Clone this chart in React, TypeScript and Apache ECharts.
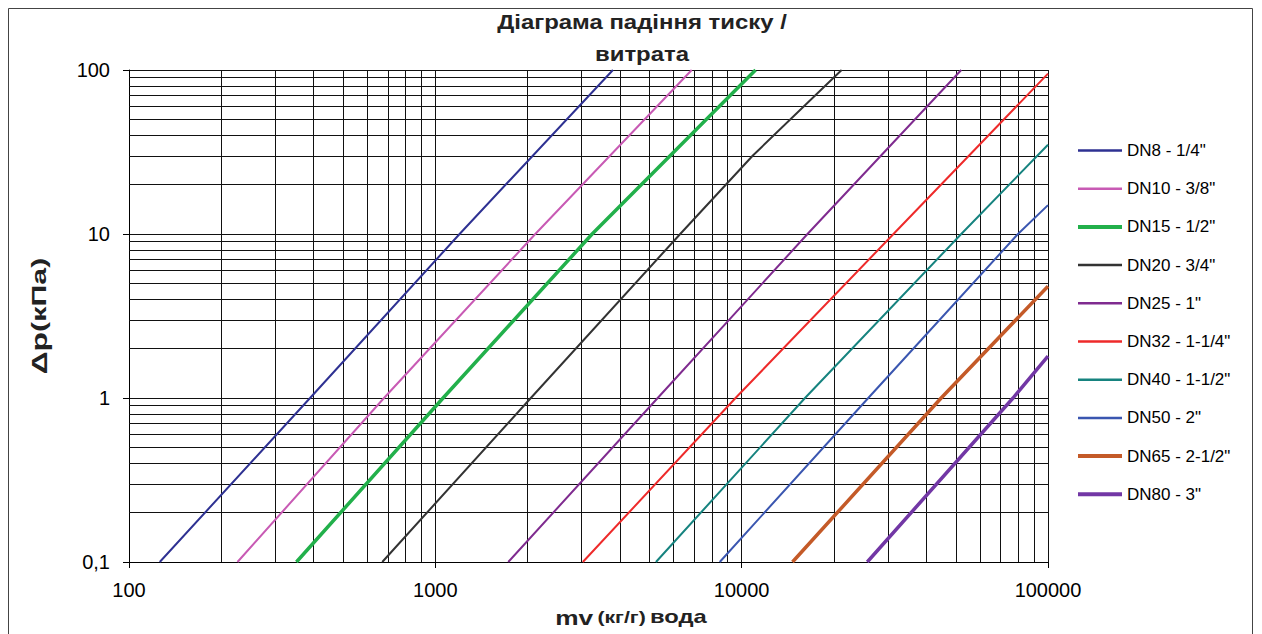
import React, { useEffect, useRef } from "react";
import * as echarts from "echarts";

// ---- data ----
const seriesNames = [
  'DN8 - 1/4"',
  'DN10 - 3/8"',
  'DN15 - 1/2"',
  'DN20 - 3/4"',
  'DN25 - 1"',
  'DN32 - 1-1/4"',
  'DN40 - 1-1/2"',
  'DN50 - 2"',
  'DN65 - 2-1/2"',
  'DN80 - 3"',
];

// [mass flow kg/h, pressure drop kPa]
const dn8 = [[126, 0.1], [390, 1], [1200, 10], [3800, 100]];
const dn10 = [[226, 0.1], [680, 1], [2120, 10], [6870, 100]];
const dn15 = [[352, 0.1], [1060, 1], [3250, 10], [11100, 100]];
const dn20 = [[671, 0.1], [2050, 1], [6300, 10], [10860, 30], [21200, 100]];
const dn25 = [[1730, 0.1], [5320, 1], [16400, 10], [52100, 100]];
const dn32 = [[3030, 0.1], [9550, 1], [31300, 10], [100000, 95]];
const dn40 = [[5250, 0.1], [16100, 1], [52100, 10], [100000, 35]];
const dn50 = [[8480, 0.1], [25900, 1], [79800, 10], [100000, 15]];
const dn65 = [[14650, 0.1], [44800, 1], [100000, 4.8]];
const dn80 = [[25700, 0.1], [76900, 1], [100000, 1.8]];
const seriesData = [dn8, dn10, dn15, dn20, dn25, dn32, dn40, dn50, dn65, dn80];

const seriesColors = [
  "#2e3192", "#c85ab4", "#22b04b", "#333333", "#7f2b8f",
  "#ee2a2a", "#16837f", "#3a56b0", "#c45a28", "#7237a5",
];
const seriesWidths = [2, 2, 3.5, 2, 2, 2, 2, 2, 3.5, 3.5];

// minor grid positions (log-scale 2..9 per decade)
const xMinorGrid = [
  200, 300, 400, 500, 600, 700, 800, 900,
  2000, 3000, 4000, 5000, 6000, 7000, 8000, 9000,
  20000, 30000, 40000, 50000, 60000, 70000, 80000, 90000,
];
const yMinorGrid = [
  0.2, 0.3, 0.4, 0.5, 0.6, 0.7, 0.8, 0.9,
  2, 3, 4, 5, 6, 7, 8, 9,
  20, 30, 40, 50, 60, 70, 80, 90,
];

const titleText = "Діаграма падіння тиску /\nвитрата";
const xName = "{a|mv} {b|(кг/г)} {c|вода}";
const yName = "{a|Δp}{b|(кПа)}";

const FONT = "'Liberation Sans', Arial, sans-serif";

export default function App() {
  const ref = useRef<HTMLDivElement>(null);

  useEffect(() => {
    if (!ref.current) return;
    const chart = echarts.init(ref.current, undefined, { renderer: "svg" });

    const gridLine = { color: "#111", width: 1, type: "solid" as const };

    const lines = seriesNames.map((name, i) => ({
      name,
      type: "line" as const,
      data: seriesData[i],
      symbol: "none",
      showSymbol: false,
      z: 5,
      lineStyle: { color: seriesColors[i], width: seriesWidths[i] },
      itemStyle: { color: seriesColors[i] },
    }));

    const option: any = {
      animation: false,
      backgroundColor: "#fff",
      textStyle: { fontFamily: FONT },
      grid: { left: 121, top: 62, width: 919, height: 492, containLabel: false },
      legend: {
        data: seriesNames.map((name, i) => ({
          name,
          lineStyle: { width: seriesWidths[i] + 0.5, color: seriesColors[i] },
        })),
        orient: "vertical",
        left: 1068,
        top: 134,
        itemWidth: 44,
        itemHeight: 14,
        itemGap: 21.2,
        padding: 0,
        itemStyle: { opacity: 0 },
        textStyle: { fontSize: 17, color: "#000", fontFamily: FONT },
      },
      xAxis: {
        type: "log",
        logBase: 10,
        min: 100,
        max: 100000,
        axisLine: { show: true, lineStyle: { color: "#000", width: 1 } },
        axisTick: { show: true, length: 6, lineStyle: { color: "#000" } },
        axisLabel: {
          fontSize: 20,
          color: "#000",
          margin: 18,
          fontFamily: FONT,
          formatter: (v: number) => String(Math.round(v)),
        },
        splitLine: { show: true, lineStyle: gridLine },
      },
      yAxis: {
        type: "log",
        logBase: 10,
        min: 0.1,
        max: 100,
        axisLine: { show: true, lineStyle: { color: "#000", width: 1 } },
        axisTick: { show: true, length: 6, lineStyle: { color: "#000" } },
        axisLabel: {
          fontSize: 20,
          color: "#000",
          margin: 19,
          fontFamily: FONT,
          formatter: (v: number) => String(Number(v.toPrecision(6))).replace(".", ","),
        },
        splitLine: { show: true, lineStyle: gridLine },
      },
      graphic: [
        {
          type: "rect",
          silent: true,
          shape: { x: 0.5, y: 0.5, width: 1244, height: 640 },
          style: { fill: "none", stroke: "#444", lineWidth: 1 },
        },
        {
          type: "text",
          x: 634,
          y: 30,
          scaleX: 1.14,
          style: {
            text: titleText,
            font: `bold 21px ${FONT}`,
            fill: "#222",
            align: "center",
            verticalAlign: "middle",
            lineHeight: 32,
          },
        },
        {
          type: "text",
          x: 623,
          y: 609,
          scaleX: 1.25,
          style: {
            text: xName,
            fill: "#222",
            align: "center",
            verticalAlign: "middle",
            rich: {
              a: { fontSize: 21, fontWeight: "bold", fontFamily: FONT, fill: "#222" },
              b: { fontSize: 17, fontWeight: "bold", fontFamily: FONT, fill: "#222" },
              c: { fontSize: 19, fontWeight: "bold", fontFamily: FONT, fill: "#222" },
            },
          },
        },
        {
          type: "text",
          x: 31,
          y: 308,
          rotation: Math.PI / 2,
          scaleX: 1.45,
          style: {
            text: yName,
            fill: "#222",
            align: "center",
            verticalAlign: "middle",
            rich: {
              a: { fontSize: 22, fontWeight: "bold", fontFamily: FONT, fill: "#222" },
              b: { fontSize: 21, fontWeight: "bold", fontFamily: FONT, fill: "#222" },
            },
          },
        },
      ],
      series: [
        {
          name: "__grid",
          type: "line",
          data: [],
          z: 1,
          silent: true,
          markLine: {
            silent: true,
            symbol: ["none", "none"],
            label: { show: false },
            lineStyle: { color: "#111", width: 1, type: "solid" },
            emphasis: { disabled: true },
            data: [
              ...xMinorGrid.map((v) => ({ xAxis: v })),
              ...yMinorGrid.map((v) => ({ yAxis: v })),
            ],
          },
        },
        ...lines,
      ],
    };

    chart.setOption(option);
    return () => chart.dispose();
  }, []);

  return <div ref={ref} style={{ width: 1246, height: 626 }} />;
}
